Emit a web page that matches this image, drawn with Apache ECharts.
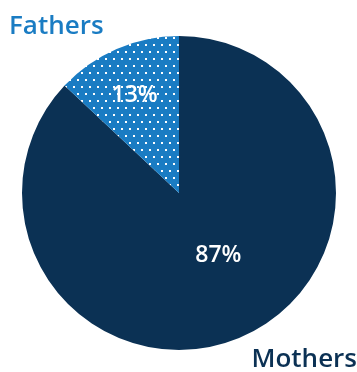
<!DOCTYPE html>
<html>
<head>
<meta charset="utf-8" />
<script src="https://cdn.jsdelivr.net/npm/echarts@6/dist/echarts.min.js"></script>
<style>
	html,body{margin:0;padding:0;background:#fff;}
	#main{width:357px;height:372px;}
</style>
</head>
<body>
<div id="main"></div>
<script>
var categories = ['Mothers', 'Fathers'];
var values = [87, 13];

// dotted tile for the fathers slice (staggered white dots)
function dotTile(){
	var c = document.createElement('canvas');
	c.width = 8; c.height = 14;
	var ctx = c.getContext('2d');
	ctx.fillStyle = '#1a7cc3';
	ctx.fillRect(0, 0, 8, 14);
	ctx.fillStyle = '#ffffff';
	ctx.fillRect(1, 2, 2, 2);
	ctx.fillRect(5, 9, 2, 2);
	return c;
}

var colors = ['#0b3154', {image: dotTile(), repeat: 'repeat'}];
var offsets = [[7, -12], [-12, -23]];

var chart = echarts.init(document.getElementById('main'));
var data = [];
for (var i = 0; i < categories.length; i++) {
	data.push({
		name: categories[i],
		value: values[i],
		itemStyle: {color: colors[i]},
		label: {offset: offsets[i]}
	});
}
chart.setOption({
	animation: false,
	graphic: [
		{type: 'text', left: 9, top: 14, style: {text: categories[1], fill: '#1a7cc3', font: '600 26px "Open Sans"'}},
		{type: 'text', right: 0, bottom: -1, style: {text: categories[0], fill: '#0b3154', font: '600 26px "Open Sans"'}}
	],
	series: [{
		type: 'pie',
		center: [179, 193],
		radius: [0, 157],
		startAngle: 90,
		clockwise: true,
		itemStyle: {borderWidth: 0},
		label: {
			show: true,
			position: 'inside',
			formatter: '{c}%',
			color: '#fff',
			fontFamily: 'Open Sans',
			fontWeight: 600,
			fontSize: 23
		},
		labelLine: {show: false},
		emphasis: {disabled: true},
		data: data
	}]
});
</script>
</body>
</html>
